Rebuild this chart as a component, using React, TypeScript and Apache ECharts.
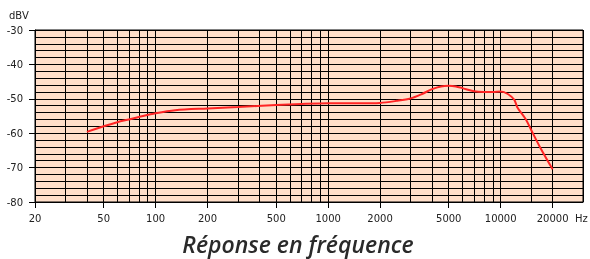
import React, { useEffect, useRef } from "react";
import * as echarts from "echarts";

const freqs = [40, 50, 60, 70, 80, 100, 130, 200, 300, 500, 700, 1000, 1500, 2000, 2500, 3000, 3500, 4000, 4500, 5000, 5500, 6000, 7000, 8000, 9000, 10000, 11000, 12000, 12500, 14000, 15000, 17000, 20000];
const levels = [-59.6, -58.0, -56.8, -56.0, -55.3, -54.2, -53.3, -52.8, -52.4, -51.8, -51.5, -51.3, -51.3, -51.2, -50.6, -49.9, -48.6, -47.2, -46.4, -46.2, -46.4, -46.9, -47.8, -48.0, -48.0, -47.9, -48.6, -50.3, -52.5, -56.0, -59.0, -64.3, -70.5];
const gridFreqs = [20, 30, 40, 50, 60, 70, 80, 90, 100, 200, 300, 400, 500, 600, 700, 800, 900, 1000, 2000, 3000, 4000, 5000, 6000, 7000, 8000, 9000, 10000, 15000, 20000, 30000];
const labelFreqs = [20, 50, 100, 200, 500, 1000, 2000, 5000, 10000, 20000];
const yTicks = [-80, -70, -60, -50, -40, -30];

export default function App() {
  const ref = useRef<HTMLDivElement>(null);
  useEffect(() => {
    if (!ref.current) return;
    const chart = echarts.init(ref.current, null, { renderer: "svg" });
    const labelFont = { fontFamily: "DejaVu Sans", fontSize: 10, color: "#222" };
    chart.setOption({
      animation: false,
      grid: {
        left: 35,
        right: 7,
        top: 30,
        bottom: 57,
        outerBoundsMode: "none",
        containLabel: false,
        show: true,
        backgroundColor: "#ffdfca",
        borderColor: "#000",
        borderWidth: 1,
      },
      xAxis: [
        {
          type: "log",
          logBase: 10,
          min: 20,
          max: 30000,
          axisLine: { show: false },
          axisLabel: { show: false },
          axisTick: { show: false, customValues: gridFreqs },
          splitLine: { show: true, lineStyle: { color: "#000", width: 1 } },
        },
        {
          type: "log",
          logBase: 10,
          min: 20,
          max: 30000,
          position: "bottom",
          axisLine: { show: true, lineStyle: { color: "#000", width: 1 } },
          axisTick: { show: true, length: 6, customValues: labelFreqs, lineStyle: { color: "#000" } },
          axisLabel: {
            show: true,
            customValues: labelFreqs,
            margin: 11,
            ...labelFont,
            formatter: (v: number) => String(Math.round(v)),
          },
          splitLine: { show: false },
        },
      ],
      yAxis: {
        type: "value",
        min: yTicks[0],
        max: yTicks[yTicks.length - 1],
        interval: 10,
        axisLine: { show: true, lineStyle: { color: "#000", width: 1 } },
        axisTick: { show: true, length: 6, lineStyle: { color: "#000" } },
        axisLabel: { margin: 12, ...labelFont },
        splitLine: { show: true, lineStyle: { color: "#000", width: 1 } },
        minorTick: { show: false, splitNumber: 5 },
        minorSplitLine: { show: true, lineStyle: { color: "#000", width: 1 } },
      },
      series: [
        {
          type: "line",
          xAxisIndex: 0,
          data: freqs.map((f, i) => [f, levels[i]]),
          smooth: 0.3,
          symbol: "none",
          lineStyle: { color: "#ff2424", width: 2 },
        },
      ],
      graphic: [
        { type: "text", left: 9, top: 10, style: { text: "dBV", font: "10px 'DejaVu Sans'", fill: "#222" } },
        { type: "text", left: 575, top: 213, style: { text: "Hz", font: "10px 'DejaVu Sans'", fill: "#222" } },
        {
          type: "text",
          x: 298,
          y: 244,
          style: {
            text: "Réponse en fréquence",
            font: "italic 600 23px 'Open Sans'",
            fill: "#2a2a2a",
            align: "center",
            verticalAlign: "middle",
          },
        },
      ],
    });
    return () => chart.dispose();
  }, []);
  return <div ref={ref} style={{ position: "fixed", left: 0, top: 0, width: 590, height: 259 }} />;
}
